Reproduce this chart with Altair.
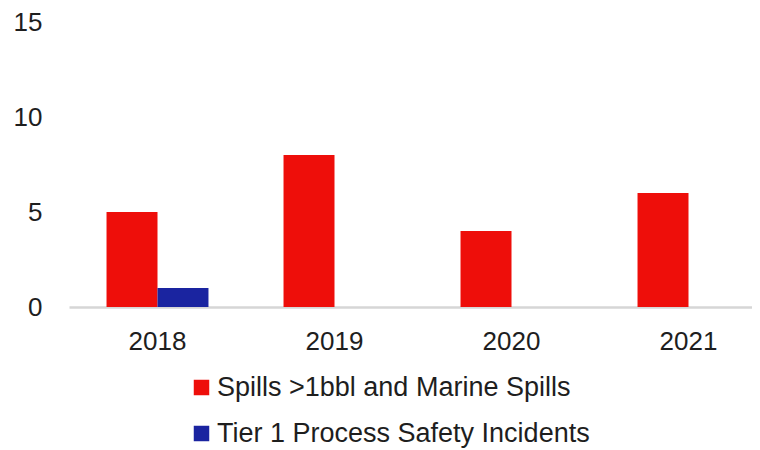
import altair as alt
import pandas as pd

years = ["2018", "2019", "2020", "2021"]
series = ["Spills >1bbl and Marine Spills", "Tier 1 Process Safety Incidents"]
spills = [5, 8, 4, 6]
tier1 = [1, 0, 0, 0]
colors = ["#EE0E0A", "#1A24A0"]

rows = []
for i, y in enumerate(years):
    rows.append({"year": y, "series": series[0], "value": spills[i]})
    rows.append({"year": y, "series": series[1], "value": tier1[i]})
df = pd.DataFrame(rows)

font = "Liberation Sans"
fs = 26
lfs = 27
txt = "#1e1e1e"

chart = alt.Chart(df).mark_bar().encode(
    x=alt.X("year:N", sort=years, title=None,
            scale=alt.Scale(paddingInner=0.424, paddingOuter=0.212, range=[0, 708]),
            axis=alt.Axis(labelAngle=0, ticks=False, domainColor="#d6d6d6", domainWidth=2.5,
                          labelFontSize=fs, labelColor=txt, labelFont=font,
                          labelPadding=21, grid=False)),
    xOffset=alt.XOffset("series:N", sort=series),
    y=alt.Y("value:Q", title=None,
            scale=alt.Scale(domain=[0, 15]),
            axis=alt.Axis(values=[0, 5, 10, 15], grid=False, ticks=False, domain=False,
                          labelFontSize=fs, labelColor=txt, labelFont=font,
                          labelPadding=27)),
    color=alt.Color("series:N", sort=series,
                    scale=alt.Scale(domain=series, range=colors),
                    legend=alt.Legend(title=None, orient="none", direction="vertical",
                                      legendX=119, legendY=352,
                                      symbolType="square", symbolSize=240,
                                      symbolStrokeWidth=0, labelLimit=0,
                                      labelFontSize=lfs, labelColor=txt, labelFont=font,
                                      rowPadding=18, labelOffset=2)),
).properties(
    width=683, height=285, background="white",
    autosize=alt.AutoSizeParams(type="none"),
    padding={"top": 14, "left": 61, "right": 0, "bottom": 143},
).configure_view(stroke="transparent", strokeWidth=0)

chart.save("out.html", embed_options={"renderer": "svg", "actions": False})
